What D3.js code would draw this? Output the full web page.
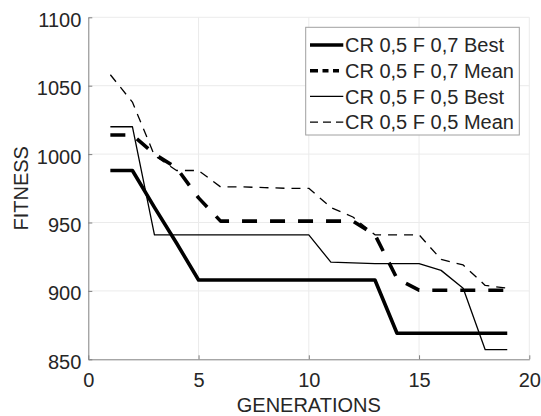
<!DOCTYPE html>
<html>
<head>
<meta charset="utf-8">
<script src="https://cdn.jsdelivr.net/npm/d3@7"></script>
<style>
  body { margin: 0; background: #fff; }
  svg text { font-family: "Liberation Sans", Arial, sans-serif; fill: #262626; }
</style>
</head>
<body>
<div class="chart"></div>
<script>
const gens = [1,2,3,4,5,6,7,8,9,10,11,12,13,14,15,16,17,18,19];
const bestF07 = [988,988,961,935,908,908,908,908,908,908,908,908,908,869,869,869,869,869,869];
const meanF07 = [1014,1014,1000,990,968,951,951,951,951,951,951,951,941,909,900.5,900.5,900.5,900.5,900.5];
const bestF05 = [1020,1020,941,941,941,941,941,941,941,941,921,920.5,920,920,920,915,902,857,857];
const meanF05 = [1058,1038,999,988,988,976,976,975.5,975,975,961,954,941,941,941,923,919,904,902];
const seriesNames = ['CR 0,5 F 0,7 Best','CR 0,5 F 0,7 Mean','CR 0,5 F 0,5 Best','CR 0,5 F 0,5 Mean'];
const xTicks = [0,5,10,15,20];
const yTicks = [850,900,950,1000,1050,1100];

const width = 541, height = 416;
const mLeft = 88.3, mRight = 529.3, mTop = 17.3, mBottom = 359.3;
const fontSize = 20;

// line style per series: width + dash
const styles = [
  {w: 3.6, dash: null},
  {w: 3.6, dash: '15,13'},
  {w: 1.3, dash: null},
  {w: 1.3, dash: '9,7'}
];
const allSeries = [bestF07, meanF07, bestF05, meanF05];

const svg = d3.select('.chart').append('svg')
  .attr('width', width).attr('height', height);

const x = d3.scaleLinear().domain([0,20]).range([mLeft, mRight]);
const y = d3.scaleLinear().domain([850,1100]).range([mBottom, mTop]);

// grid
svg.append('g')
  .selectAll('line').data(xTicks.slice(1)).enter().append('line')
  .attr('x1', d => x(d)).attr('x2', d => x(d))
  .attr('y1', mTop).attr('y2', mBottom)
  .attr('stroke', '#ebebeb').attr('stroke-width', 1);
svg.append('g')
  .selectAll('line').data(yTicks.slice(1)).enter().append('line')
  .attr('x1', mLeft).attr('x2', mRight)
  .attr('y1', d => y(d)).attr('y2', d => y(d))
  .attr('stroke', '#ebebeb').attr('stroke-width', 1);

// axes
const xAxis = svg.append('g')
  .attr('transform', 'translate(0,' + mBottom + ')')
  .call(d3.axisBottom(x).tickValues(xTicks).tickFormat(d3.format('d'))
    .tickSizeInner(-4).tickSizeOuter(0).tickPadding(14));
const yAxis = svg.append('g')
  .attr('transform', 'translate(' + mLeft + ',0)')
  .call(d3.axisLeft(y).tickValues(yTicks).tickFormat(d3.format('d'))
    .tickSizeInner(-4).tickSizeOuter(0).tickPadding(7));
yAxis.selectAll('.tick text').attr('dy', '0.45em');
[xAxis, yAxis].forEach(a => {
  a.select('.domain').attr('stroke', '#808080');
  a.selectAll('.tick line').attr('stroke', '#808080');
  a.selectAll('.tick text').attr('font-size', fontSize).attr('fill', '#262626')
    .attr('font-family', '"Liberation Sans", Arial, sans-serif');
});

// lines
const line = d3.line()
  .x((d, i) => x(gens[i]))
  .y(d => y(d));

svg.append('g').selectAll('path')
  .data(allSeries).enter().append('path')
  .attr('d', d => line(d))
  .attr('fill', 'none')
  .attr('stroke', '#000')
  .attr('stroke-width', (d, i) => styles[i].w)
  .attr('stroke-dasharray', (d, i) => styles[i].dash)
  .attr('stroke-linejoin', 'round');

// axis labels
svg.append('text')
  .attr('x', (mLeft + mRight) / 2).attr('y', 412)
  .attr('text-anchor', 'middle').attr('font-size', fontSize)
  .text('GENERATIONS');
svg.append('text')
  .attr('transform', 'translate(28.3,188.3) rotate(-90)')
  .attr('text-anchor', 'middle').attr('font-size', fontSize)
  .text('FITNESS');

// legend
const lg = svg.append('g');
lg.append('rect')
  .attr('x', 305.7).attr('y', 27.3).attr('width', 213.6).attr('height', 107.7)
  .attr('fill', '#fff').attr('stroke', '#a0a0a0').attr('stroke-width', 1);
const rows = lg.selectAll('g').data(seriesNames).enter().append('g')
  .attr('transform', (d, i) => 'translate(0,' + (45 + i * 25.7) + ')');
rows.append('line')
  .attr('x1', 310).attr('x2', 343.3).attr('y1', 0).attr('y2', 0)
  .attr('stroke', '#000')
  .attr('stroke-width', (d, i) => styles[i].w)
  .attr('stroke-dasharray', (d, i) => i === 1 ? '8,4.5,6,4.5,6,4.5' : (i === 3 ? '8,5' : null));
rows.append('text')
  .attr('x', 345).attr('y', 7.2)
  .attr('font-size', fontSize)
  .text(d => d);
</script>
</body>
</html>
